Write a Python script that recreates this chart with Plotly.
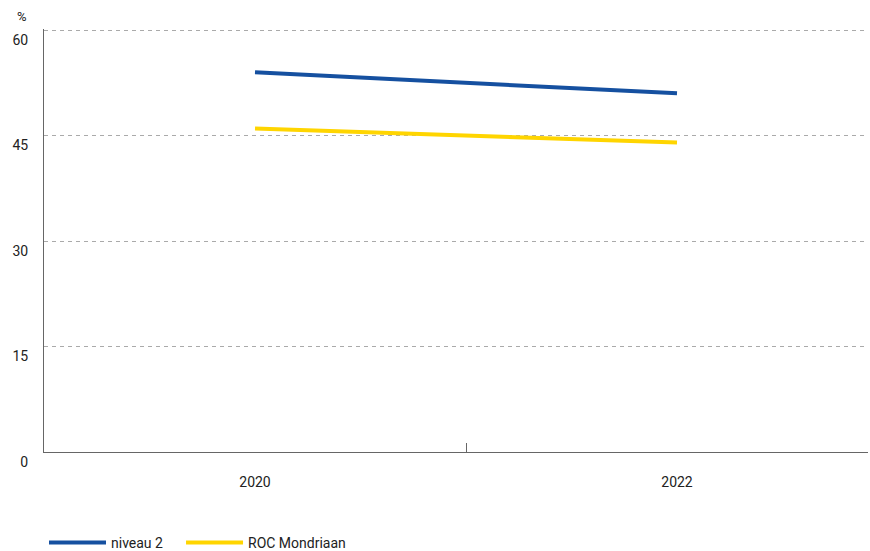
import plotly.graph_objects as go

# Category labels and series values (percent)
years = ["2020", "2022"]
niveau_2 = [54, 51]
roc_mondriaan = [46, 44]
y_ticks = [0, 15, 30, 45, 60]

FONT = "Roboto"
TEXT = "#222222"

fig = go.Figure()
fig.add_trace(go.Scatter(
    x=years, y=niveau_2, name="niveau 2", mode="lines",
    line=dict(color="#1550A0", width=4), legend="legend",
))
fig.add_trace(go.Scatter(
    x=years, y=roc_mondriaan, name="ROC Mondriaan", mode="lines",
    line=dict(color="#FFD500", width=4), legend="legend2",
))

legend_common = dict(
    orientation="h", xanchor="left", yref="container", y=0.0145,
    yanchor="middle", font=dict(family=FONT, size=14, color=TEXT),
    itemwidth=57, bgcolor="rgba(0,0,0,0)", borderwidth=0,
)

fig.update_layout(
    width=870, height=551,
    margin=dict(l=44, r=2, t=29, b=99, autoexpand=False),
    paper_bgcolor="white", plot_bgcolor="white",
    font=dict(family=FONT, size=14, color=TEXT),
    showlegend=True,
    legend=dict(x=0, **legend_common),
    legend2=dict(x=0.1663, **legend_common),
    xaxis=dict(
        type="category", range=[-0.5, 1.4526],
        showgrid=False, showline=True, linecolor="#666666", linewidth=1,
        tickson="boundaries", ticks="inside", ticklen=9, tickcolor="#666666",
        tickwidth=1, ticklabelstandoff=17,
        tickfont=dict(family=FONT, size=14, color=TEXT),
        fixedrange=True,
    ),
    yaxis=dict(
        range=[0, 60.15], tickvals=y_ticks,
        showgrid=True, gridcolor="#AAAAAA", gridwidth=1, griddash="4px,4px",
        zeroline=False, showline=True, linecolor="#666666", linewidth=1,
        ticks="", ticklabelshift=10, ticklabelstandoff=12,
        tickfont=dict(family=FONT, size=14, color=TEXT),
        fixedrange=True,
    ),
    annotations=[dict(
        text="%", xref="paper", yref="paper", x=-0.027, y=1.0,
        xanchor="center", yanchor="bottom", yshift=3, showarrow=False,
        font=dict(family=FONT, size=13, color=TEXT),
    )],
)

fig.write_html("out.html")
